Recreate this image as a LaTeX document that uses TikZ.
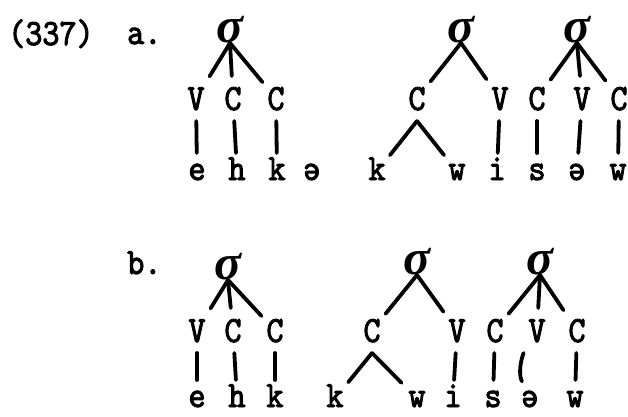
\documentclass[tikz,border=0pt]{standalone}
\usepackage{fontspec}
\newfontfamily\tw[FakeStretch=0.88, FakeBold=2.5]{lmmono10-regular.otf}
\newfontfamily\sg{Liberation Serif}
\tikzset{
  ttfont/.style={font=\tw\fontsize{37}{37}\selectfont, inner sep=0pt},
  caprow/.style={ttfont, outer xsep=5pt, outer ysep=11pt, text height=23pt, text depth=0pt, anchor=base},
  lowrow/.style={ttfont, outer xsep=3pt, outer ysep=0pt, text height=17pt, text depth=0pt, anchor=base},
  lab/.style={ttfont, anchor=base west},
  sig/.style={font=\sg\bfseries\itshape\fontsize{50}{50}\selectfont, inner sep=0pt, anchor=south},
  conn/.style={line width=3.8pt, line cap=round},
  tolow/.style={conn, shorten >=10pt}
}
\begin{document}
\begin{tikzpicture}[x=1pt,y=-1pt]
\useasboundingbox (0,0) rectangle (628,416);
% ---------- (337) a.
\node[lab] (n337) at (8,45) {(337)};
\node[lab] (la) at (127,44) {a.};
\node[sig] (s1) at (230,43) {σ};
\node[sig] (s2) at (461,43) {σ};
\node[sig] (s3) at (577,43) {σ};
\node[caprow] (a1) at (196,110) {V};
\node[caprow] (a2) at (233,110) {C};
\node[caprow] (a3) at (276,110) {C};
\node[caprow] (a4) at (417,110) {C};
\node[caprow] (a5) at (500,110) {V};
\node[caprow] (a6) at (537,110) {C};
\node[caprow] (a7) at (582,110) {V};
\node[caprow] (a8) at (619,110) {C};
\node[lowrow] (p1) at (197,180) {e};
\node[lowrow] (p2) at (237,180) {h};
\node[lowrow] (p3) at (277,180) {k};
\node[lowrow] (p4) at (312,180) {ə};
\node[lowrow] (p5) at (377,180) {k};
\node[lowrow] (p6) at (457,180) {w};
\node[lowrow] (p7) at (497,180) {i};
\node[lowrow] (p8) at (537,180) {s};
\node[lowrow] (p9) at (577,180) {ə};
\node[lowrow] (p10) at (618,180) {w};
\draw[conn] (s1.south) -- (a1);
\draw[conn] (s1.south) -- (a2);
\draw[conn] (s1.south) -- (a3);
\draw[conn] (s2.south) -- (a4);
\draw[conn] (s2.south) -- (a5);
\draw[conn] (s3.south) -- (a6);
\draw[conn] (s3.south) -- (a7);
\draw[conn] (s3.south) -- (a8);
\draw[tolow] (a1) -- (p1);
\draw[tolow] (a2) -- (p2);
\draw[tolow] (a3) -- (p3);
\draw[tolow] (a4.south) -- (p5);
\draw[tolow] (a4.south) -- (p6);
\draw[tolow] (a5) -- (p7);
\draw[tolow] (a6) -- (p8);
\draw[tolow] (a7) -- (p9);
\draw[tolow] (a8) -- (p10);
% ---------- b.
\node[lab] (lb) at (127,274) {b.};
\node[sig] (s4) at (228,280) {σ};
\node[sig] (s5) at (417,275) {σ};
\node[sig] (s6) at (540,275) {σ};
\node[caprow] (b1) at (197,342) {V};
\node[caprow] (b2) at (233,342) {C};
\node[caprow] (b3) at (275,342) {C};
\node[caprow] (b4) at (372,342) {C};
\node[caprow] (b5) at (457,342) {V};
\node[caprow] (b6) at (495,342) {C};
\node[caprow] (b7) at (537,342) {V};
\node[caprow] (b8) at (577,342) {C};
\node[lowrow] (q1) at (197,407) {e};
\node[lowrow] (q2) at (237,407) {h};
\node[lowrow] (q3) at (275,407) {k};
\node[lowrow] (q4) at (335,407) {k};
\node[lowrow] (q5) at (417,407) {w};
\node[lowrow] (q6) at (453,407) {i};
\node[lowrow] (q7) at (493,407) {s};
\node[lowrow] (q8) at (530,407) {ə};
\node[lowrow] (q9) at (575,407) {w};
\draw[conn] (s4.south) -- (b1);
\draw[conn] (s4.south) -- (b2);
\draw[conn] (s4.south) -- (b3);
\draw[conn] (s5.south) -- (b4);
\draw[conn] (s5.south) -- (b5);
\draw[conn] (s6.south) -- (b6);
\draw[conn] (s6.south) -- (b7);
\draw[conn] (s6.south) -- (b8);
\draw[tolow] (b1) -- (q1);
\draw[tolow] (b2) -- (q2);
\draw[tolow] (b3) -- (q3);
\draw[tolow] (b4.south) -- (q4);
\draw[tolow] (b4.south) -- (q5);
\draw[tolow] (b5) -- (q6);
\draw[tolow] (b6) -- (q7);
\draw[tolow] (b7) to[bend right=25] (q8);
\draw[tolow] (b8) -- (q9);
\end{tikzpicture}
\end{document}
